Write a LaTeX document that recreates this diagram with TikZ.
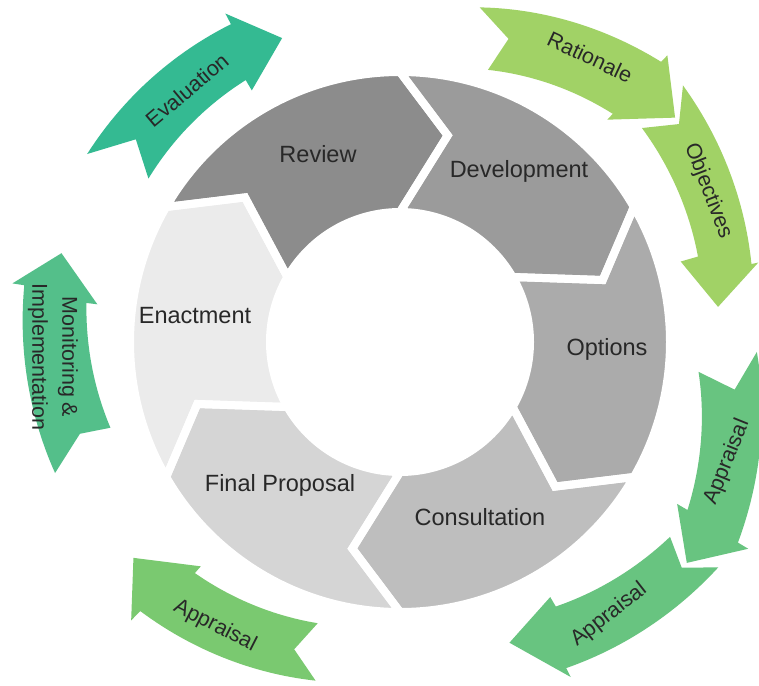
\documentclass[tikz,border=0pt]{standalone}
\usepackage{fontspec}
\setmainfont{Liberation Sans}
\definecolor{cReview}{RGB}{140,140,140}
\definecolor{cDev}{RGB}{155,155,155}
\definecolor{cOpt}{RGB}{171,171,171}
\definecolor{cCons}{RGB}{190,190,190}
\definecolor{cFinal}{RGB}{213,213,213}
\definecolor{cEnact}{RGB}{235,235,235}
\definecolor{gEval}{RGB}{52,186,146}
\definecolor{gMon}{RGB}{84,191,138}
\definecolor{gApp}{RGB}{104,196,128}
\definecolor{gAppL}{RGB}{122,201,112}
\definecolor{gRat}{RGB}{161,210,102}
\definecolor{txt}{RGB}{40,40,40}
\pgfkeys{/ga/.is family}
\pgfkeys{/ga,
  to/.store in=\gaTo, ro/.store in=\gaRo,
  ti/.store in=\gaTi, ri/.store in=\gaRi,
  tn/.store in=\gaTn, rn/.store in=\gaRn,
  tbo/.store in=\gaTbo, rbo/.store in=\gaRbo,
  tbi/.store in=\gaTbi, rbi/.store in=\gaRbi,
  rho/.store in=\gaRho, rhi/.store in=\gaRhi,
  tp/.store in=\gaTp, rp/.store in=\gaRp}
\newcommand\garrow[2]{%
  \pgfkeys{/ga,#2}%
  \fill[#1]
    plot[domain=0:1,samples=30,variable=\t]
      ({((\gaRo)+((\gaRbo)-(\gaRo))*\t)*cos((\gaTo)+((\gaTbo)-(\gaTo))*\t)},
       {((\gaRo)+((\gaRbo)-(\gaRo))*\t)*sin((\gaTo)+((\gaTbo)-(\gaTo))*\t)})
    -- (\gaTbo:\gaRho) -- (\gaTp:\gaRp) -- (\gaTbi:\gaRhi)
    -- plot[domain=0:1,samples=30,variable=\t]
      ({((\gaRbi)+((\gaRi)-(\gaRbi))*\t)*cos((\gaTbi)+((\gaTi)-(\gaTbi))*\t)},
       {((\gaRbi)+((\gaRi)-(\gaRbi))*\t)*sin((\gaTbi)+((\gaTi)-(\gaTbi))*\t)})
    -- (\gaTn:\gaRn) -- cycle;}
\newcommand\segpath[1]{(#1:270) arc[start angle=#1, end angle=#1-60, radius=270pt]
  -- (#1-73:212) -- (#1-60:130) arc[start angle=#1-60, end angle=#1, radius=130pt]
  -- (#1-13:212) -- cycle}
\tikzset{
  inl/.style={font=\fontsize{23.5}{27}\selectfont, text=txt, inner sep=0pt},
  outl/.style={font=\fontsize{21.5}{30}\selectfont, text=txt, inner sep=0pt},
  gap/.style={draw=white, line width=8pt, line join=miter}
}
\begin{document}
\begin{tikzpicture}[x=1pt,y=1pt]
\useasboundingbox (0,0) rectangle (759,-685);
\fill[white] (0,0) rectangle (759,-685);
\begin{scope}[shift={(400,-342)}]
  % ring segments
  \fill[cReview] \segpath{150};
  \fill[cDev] \segpath{90};
  \fill[cOpt] \segpath{30};
  \fill[cCons] \segpath{-30};
  \fill[cFinal] \segpath{-90};
  \fill[cEnact] \segpath{-150};
  \foreach \a in {150,90,30,-30,-90,-150} { \path[gap] \segpath{\a}; }
  % outer arrows
  \garrow{gEval}{to=149,ro=365,ti=147,ri=300,tn=142.5,rn=333,tbo=118,rbo=360,tbi=120.5,rbi=304,rho=372,rhi=292,tp=111.2,rp=326}
  \garrow{gRat}{to=76.6,ro=344,ti=72.1,ri=286,tn=70.3,rn=322,tbo=47,rbo=383,tbi=47,rbi=312,rho=392,rhi=304,tp=39.2,rp=355}
  \garrow{gRat}{to=42.2,ro=382,ti=41.5,ri=323,tn=38,rn=354,tbo=12.5,rbo=360,tbi=16,rbi=310,rho=367,rhi=292,tp=6.3,rp=320}
  \garrow{gApp}{to=-1.6,ro=357,ti=-5.7,ri=300,tn=-8.1,rn=338,tbo=-30.7,rbo=393,tbi=-30.3,rbi=333,rho=405,rhi=321,tp=-37.6,rp=362}
  \garrow{gApp}{to=-35.3,ro=390,ti=-35.8,ri=333,tn=-38.7,rn=361,tbo=-63,rbo=366,tbi=-59.5,rbi=307,rho=376,rhi=296,tp=-70,rp=320}
  \garrow{gAppL}{to=-104,ro=349,ti=-106.3,ri=293,tn=-109,rn=325,tbo=-134,rbo=374,tbi=-131.6,rbi=309,rho=387,rhi=300,tp=-141,rp=343}
  \garrow{gMon}{to=200.8,ro=369,ti=196.5,ri=302,tn=196,rn=333,tbo=171.4,rbo=380,tbi=172.9,rbi=316,rho=392,rhi=305,tp=165.3,rp=350}
\end{scope}
% inner labels
\node[inl] (review) at (318,-154) {Review};
\node[inl] (dev) at (519,-171) {Development};
\node[inl] (opt) at (607,-349) {Options};
\node[inl] (cons) at (480,-517) {Consultation};
\node[inl] (final) at (280,-485) {Final Proposal};
\node[inl] (enact) at (195,-316) {Enactment};
% outer labels
\node[outl, rotate=40] (eval) at (187,-90) {Evaluation};
\node[outl, rotate=-25] (rat) at (590,-57) {Rationale};
\node[outl, rotate=-69] (obj) at (708,-191) {Objectives};
\node[outl, rotate=68] (app1) at (727,-462) {Appraisal};
\node[outl, rotate=38] (app2) at (609,-615) {Appraisal};
\node[outl, rotate=-27] (app3) at (215,-626) {Appraisal};
\node[outl, rotate=-90, align=center] (mon) at (53,-357) {Monitoring \&\\Implementation};
\end{tikzpicture}
\end{document}
